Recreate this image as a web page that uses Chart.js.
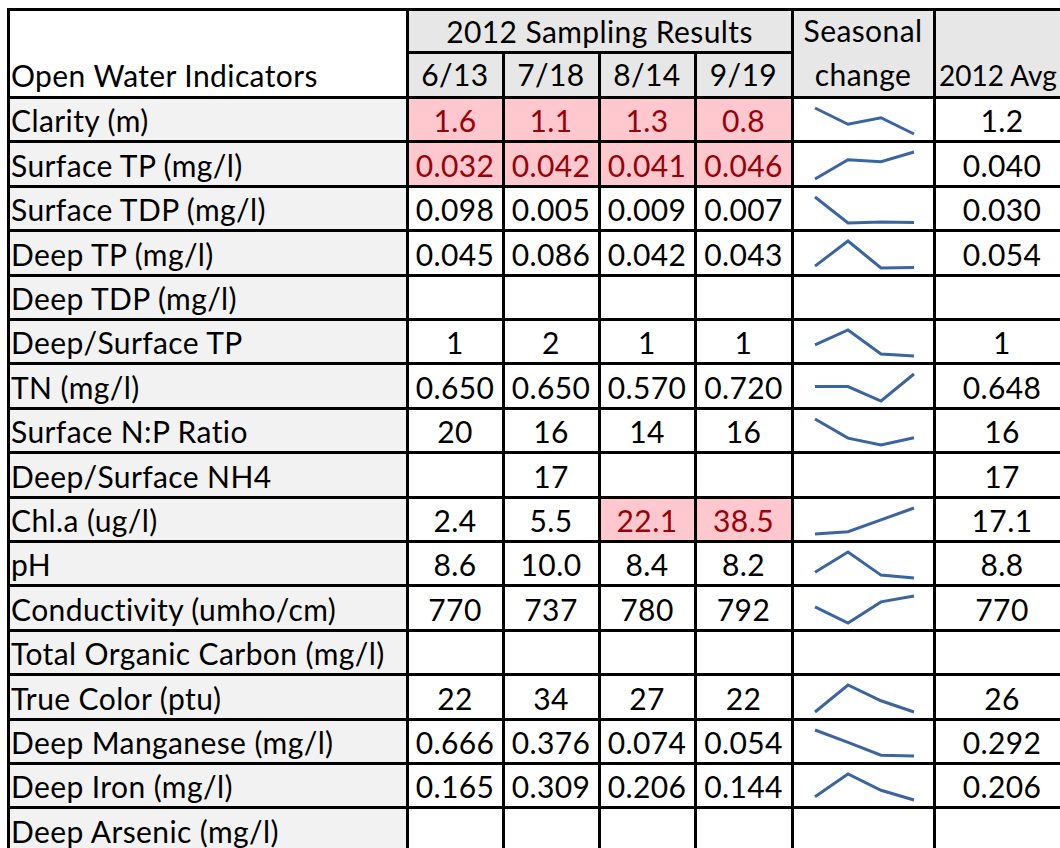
<!DOCTYPE html>
<html><head><meta charset="utf-8">
<script src="https://cdn.jsdelivr.net/npm/chart.js@4/dist/chart.umd.min.js"></script>
<style>
html,body{margin:0;padding:0;width:1060px;height:848px;overflow:hidden;background:#fff;}
#wrap{position:relative;width:1060px;height:848px;overflow:hidden;font-family:Lato,"Open Sans",sans-serif;}
.cell{position:absolute;box-sizing:border-box;display:flex;align-items:flex-end;font-size:30px;line-height:30px;letter-spacing:0.4px;color:#000;white-space:nowrap;padding-bottom:6px;}
.line{position:absolute;background:#000;}
.spark{position:absolute;}
</style></head>
<body><div id="wrap"></div>
<script>
// ---- data ----
const indicators = ["Clarity (m)","Surface TP (mg/l)","Surface TDP (mg/l)","Deep TP (mg/l)","Deep TDP (mg/l)","Deep/Surface TP","TN (mg/l)","Surface N:P Ratio","Deep/Surface NH4","Chl.a (ug/l)","pH","Conductivity (umho/cm)","Total Organic Carbon (mg/l)","True Color (ptu)","Deep Manganese (mg/l)","Deep Iron (mg/l)","Deep Arsenic (mg/l)"];
const dates = ["6/13","7/18","8/14","9/19"];
const jun13 = [1.6,0.032,0.098,0.045,null,1.41,0.650,20.3,null,2.4,8.6,770,null,22,0.666,0.165,null];
const jul18 = [1.1,0.042,0.005,0.086,null,2.05,0.650,15.6,17,5.5,10.0,737,null,34,0.376,0.309,null];
const aug14 = [1.3,0.041,0.009,0.042,null,1.02,0.570,13.9,null,22.1,8.4,780,null,27,0.074,0.206,null];
const sep19 = [0.8,0.046,0.007,0.043,null,0.93,0.720,15.7,null,38.5,8.2,792,null,22,0.054,0.144,null];
const avg2012 = [1.2,0.040,0.030,0.054,null,1,0.648,16,17,17.1,8.8,770,null,26,0.292,0.206,null];
const decimals = [1,3,3,3,3,0,3,0,0,1,1,0,0,0,3,3,3];
const flagged = [[0,0],[0,1],[0,2],[0,3],[1,0],[1,1],[1,2],[1,3],[9,2],[9,3]];
const headerTitle = "2012 Sampling Results";
const seasonalTitle = "Seasonal change";
const avgTitle = "2012 Avg";
const cornerTitle = "Open Water Indicators";

// ---- layout ----
const wrap = document.getElementById('wrap');
const colX = [8,407,503,599,695,792,934,1070];
const yTop = 9, yMid = 52, yHead = 97, rowH = 44.4;
const series = [jun13,jul18,aug14,sep19];
const nRows = indicators.length;
const rowY = i => yHead + rowH*i;

function cell(x0,x1,y0,y1,text,opts={}){
  const d=document.createElement('div');
  d.className='cell';
  d.style.left=x0+'px'; d.style.top=y0+'px';
  d.style.width=(x1-x0)+'px'; d.style.height=(y1-y0)+'px';
  d.style.background=opts.bg||'#fff';
  d.style.justifyContent=opts.align||'center';
  if(opts.color) d.style.color=opts.color;
  if(opts.padL!=null) d.style.paddingLeft=opts.padL+'px';
  if(opts.padB!=null) d.style.paddingBottom=opts.padB+'px';
  if(opts.size) d.style.fontSize=opts.size+'px';
  if(opts.ls!=null) d.style.letterSpacing=opts.ls+'px';
  if(opts.wrap){d.style.whiteSpace='normal';d.style.textAlign='center';d.style.lineHeight='44px';}
  d.textContent=text==null?'':text;
  wrap.appendChild(d);
  return d;
}
function line(x,y,w,h){
  const d=document.createElement('div');d.className='line';
  d.style.left=x+'px';d.style.top=y+'px';d.style.width=w+'px';d.style.height=h+'px';
  wrap.appendChild(d);
}
const HB='#e7e7e7', LB='#f2f2f2', PINK='#ffc7ce', DRED='#9c0006';

// header
cell(colX[0],colX[1],yTop,yHead,cornerTitle,{align:'flex-start',padL:3,padB:7});
cell(colX[1],colX[5],yTop,yMid,headerTitle,{bg:HB,padB:6});
dates.forEach((d,j)=>cell(colX[1+j],colX[2+j],yMid,yHead,d,{bg:HB,padB:8}));
cell(colX[5],colX[6],yTop,yHead,seasonalTitle,{bg:HB,wrap:true,padB:1});
cell(colX[6],colX[7],yTop,yHead,avgTitle,{bg:HB,padB:7,align:'flex-start',padL:5,size:28,ls:0});

const isFlag=(r,c)=>flagged.some(f=>f[0]===r&&f[1]===c);
for(let i=0;i<nRows;i++){
  const y0=rowY(i), y1=rowY(i+1);
  cell(colX[0],colX[1],y0,y1,indicators[i],{bg:LB,align:'flex-start',padL:3});
  series.forEach((s,j)=>{
    const v=s[i]; const f=isFlag(i,j);
    cell(colX[1+j],colX[2+j],y0,y1,v==null?'':v.toFixed(decimals[i]),{bg:f?PINK:'#fff',color:f?DRED:null});
  });
  cell(colX[5],colX[6],y0,y1,'',{});
  cell(colX[6],colX[7],y0,y1,avg2012[i]==null?'':avg2012[i].toFixed(decimals[i]));
}

// grid lines
const bottom = rowY(nRows)+2;
line(colX[0]-1,yTop-1,colX[7]-colX[0]+2,3);
line(colX[1]-1,yMid-1,colX[5]-colX[1]+2,3);
for(let i=0;i<=nRows;i++) line(colX[0]-1,rowY(i)-1,colX[7]-colX[0]+2,3);
[0,1,5,6,7].forEach(k=>line(colX[k]-1,yTop-1,3,bottom-yTop));
[2,3,4].forEach(k=>line(colX[k]-1,yMid-1,3,bottom-yMid));

// sparklines (Chart.js)
for(let i=0;i<nRows;i++){
  const vals=series.map(s=>s[i]);
  const nums=vals.filter(v=>v!=null);
  if(nums.length<2) continue;
  const y0=Math.round(rowY(i)), y1=Math.round(rowY(i+1));
  const cv=document.createElement('canvas');
  cv.className='spark';
  const w=colX[6]-colX[5], h=y1-y0;
  cv.width=w; cv.height=h;
  cv.style.left=colX[5]+'px'; cv.style.top=y0+'px';
  cv.style.width=w+'px'; cv.style.height=h+'px';
  wrap.appendChild(cv);
  new Chart(cv,{
    type:'line',
    data:{labels:dates,datasets:[{data:vals,borderColor:'#3a65a0',borderWidth:3,pointRadius:0,tension:0,spanGaps:true,borderJoinStyle:'miter',clip:false}]},
    options:{
      responsive:false,animation:false,
      layout:{padding:{left:23,right:20,top:11,bottom:7}},
      plugins:{legend:{display:false},tooltip:{enabled:false}},
      scales:{
        x:{display:false,offset:false},
        y:{display:false,min:Math.min(...nums),max:Math.max(...nums)}
      }
    }
  });
}
</script>
</body></html>
